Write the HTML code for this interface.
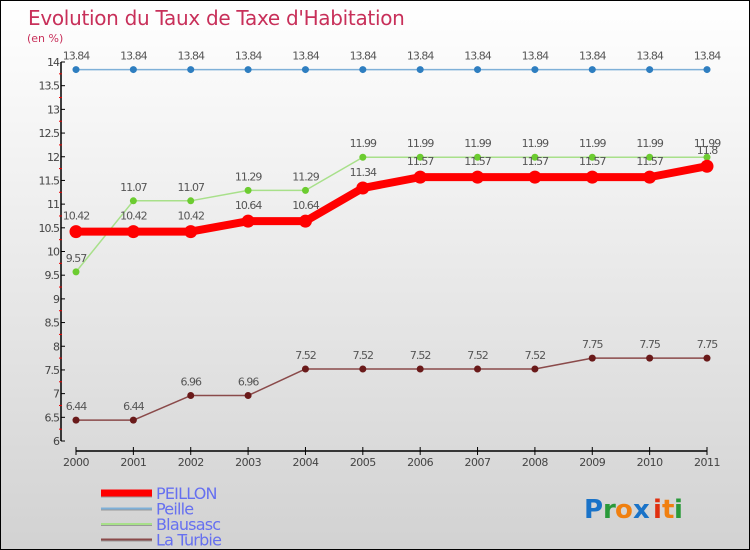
<!DOCTYPE html>
<html><head><meta charset="utf-8"><style>
body{margin:0}
#wrap{width:750px;height:550px;position:relative;box-sizing:border-box;border:1px solid #000;background:linear-gradient(#fff,#f2f2f2 30%,#d2d2d2);font-family:"DejaVu Sans","Liberation Sans",sans-serif;overflow:hidden}
svg text{font-family:"DejaVu Sans","Liberation Sans",sans-serif}
</style></head><body>
<div id="wrap">
<svg id="s" width="750" height="550" xmlns="http://www.w3.org/2000/svg">
<text x="27" y="24" font-size="20" fill="#c8305a" font-family="Liberation Sans" letter-spacing="-0.3">Evolution du Taux de Taxe d'Habitation</text>
<text x="26" y="41" font-size="11" fill="#c8305a">(en %)</text>
<g id="axes"></g><g id="series"></g><g id="legend"></g>
<g font-size="26" font-weight="bold">
<text x="583" y="517" fill="#1a73c8">P</text><text x="602" y="517" fill="#2a9a3a">r</text><text x="614" y="517" fill="#f08010">o</text><text x="632" y="517" fill="#1a73c8">x</text><text x="652" y="517" fill="#e03010">i</text><text x="661" y="517" fill="#f08010">t</text><text x="673" y="517" fill="#2a9a3a">i</text>
</g>
</svg>
</div>
<script>
const years=[2000,2001,2002,2003,2004,2005,2006,2007,2008,2009,2010,2011];
const peillon=[10.42,10.42,10.42,10.64,10.64,11.34,11.57,11.57,11.57,11.57,11.57,11.8];
const peille=[13.84,13.84,13.84,13.84,13.84,13.84,13.84,13.84,13.84,13.84,13.84,13.84];
const blausasc=[9.57,11.07,11.07,11.29,11.29,11.99,11.99,11.99,11.99,11.99,11.99,11.99];
const laturbie=[6.44,6.44,6.96,6.96,7.52,7.52,7.52,7.52,7.52,7.75,7.75,7.75];
const yTicks=[6,6.5,7,7.5,8,8.5,9,9.5,10,10.5,11,11.5,12,12.5,13,13.5,14];
const NS="http://www.w3.org/2000/svg";
const X=i=>75+i*(706-75)/(years.length-1);
const Y=v=>440-(v-6)*(440-61)/8;
function mk(tag,a,p){const e=document.createElementNS(NS,tag);for(const k in a)e.setAttribute(k,a[k]);p.appendChild(e);return e;}
const ax=document.getElementById('axes');
let yl=mk('line',{x1:60,y1:Y(14),x2:60,y2:440,stroke:'#000','stroke-width':1.5},ax);


yTicks.forEach(t=>{mk('line',{x1:60,x2:64,y1:Y(t),y2:Y(t),stroke:'#000'},ax);
 if(t<14)mk('line',{x1:58,x2:61,y1:Y(t+0.25),y2:Y(t+0.25),stroke:'#e00'},ax);
 const tx=mk('text',{x:58,y:Y(t)+4,'font-size':11,'text-anchor':'end',fill:'#444','letter-spacing':'-1'},ax);tx.textContent=t;
 
 });
let xl=mk('line',{x1:75,y1:450,x2:706,y2:450,stroke:'#000','stroke-width':1.5},ax);


years.forEach((y,i)=>{mk('line',{x1:X(i),x2:X(i),y1:446,y2:454,stroke:'#000'},ax);
 const tx=mk('text',{x:X(i),y:465,'font-size':11,'text-anchor':'middle',fill:'#444','letter-spacing':'-0.5'},ax);tx.textContent=y;
 
 });
const sg=document.getElementById('series');
function series(name,d,col,w,r,mcol,labdy){
 const g=mk('g',{},sg);
 
 
 mk('polyline',{points:d.map((v,i)=>X(i)+','+Y(v)).join(' '),fill:'none',stroke:col,'stroke-width':w,'stroke-linejoin':'round'},g);
 d.forEach((v,i)=>{const c=mk('circle',{cx:X(i),cy:Y(v),r:r,fill:mcol},g);
  
  
  const t=mk('text',{x:X(i),y:Y(v)+labdy,'font-size':11,'text-anchor':'middle',fill:'#555','letter-spacing':'-1'},g);t.textContent=v;
  
  });
}
series('peille',peille,'#7eb0d8',1.5,3.5,'#2e7ec0',-10);
series('la-turbie',laturbie,'#8a4a4a',1.5,3.5,'#6a1a1a',-10);
series('blausasc',blausasc,'#a8e08a',1.5,3.5,'#6ccc30',-10);
series('peillon',peillon,'#f00',8,6.5,'#f00',-12);
const lg=document.getElementById('legend');
const L=[['PEILLON','#f00',7],['Peille','#7eb0d8',2],['Blausasc','#a8e08a',2],['La Turbie','#8a4a4a',2]];
L.forEach((l,i)=>{const y=492+i*15.5;
 const g=mk('g',{},lg);
 
 
 mk('line',{x1:100,x2:151,y1:y+1,y2:y+1,stroke:'#999','stroke-width':l[2]},g);
 mk('line',{x1:100,x2:151,y1:y,y2:y,stroke:l[1],'stroke-width':l[2]},g);
 const t=mk('text',{x:155,y:y+6,'font-size':16,fill:'#6670f0','letter-spacing':'-0.8','font-family':'Liberation Sans'},g);t.textContent=l[0];});
</script>
</body></html>
